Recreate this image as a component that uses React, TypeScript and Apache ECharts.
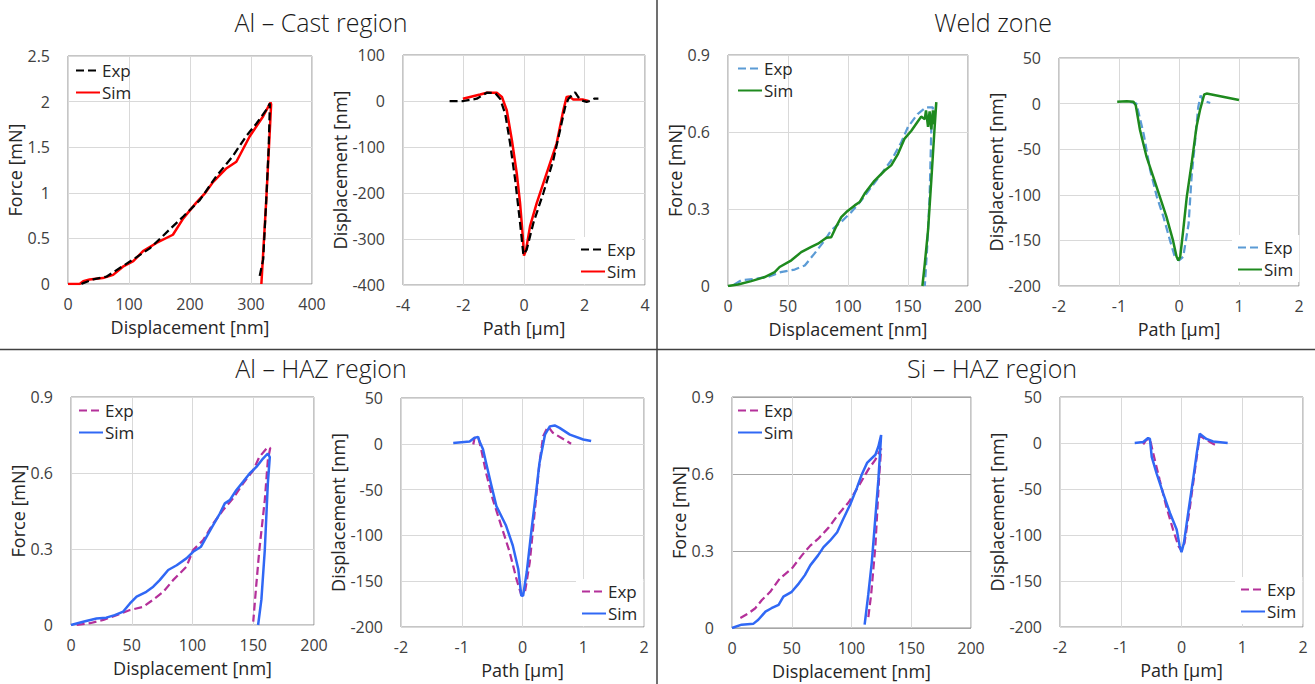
import React, { useEffect, useRef } from "react";
import * as echarts from "echarts";

// ---------- DATA ----------
const castForceExp = [[22,0],[25,0.01],[41,0.05],[63,0.08],[85,0.175],[107,0.27],[134,0.39],[167,0.6],[189,0.74],[216,0.92],[243,1.18],[270,1.4],[292,1.62],[309,1.76],[325,1.91],[331,1.98],[329,1.5],[325,0.92],[320,0.27],[314,0.08]];
const castForceSim = [[0,0],[19,0],[25,0.03],[35.5,0.05],[57,0.065],[74,0.1],[90,0.19],[107,0.25],[123,0.36],[145,0.45],[172,0.54],[189,0.72],[210,0.89],[224,0.99],[238,1.12],[260,1.27],[276,1.34],[298,1.62],[320,1.84],[332,1.99],[333,1.97],[325,0.92],[317,0]];
const castProfileExp = [[-2.46,0],[-2,0],[-1.56,5],[-1.23,18],[-0.95,17],[-0.79,5],[-0.62,-28],[-0.46,-92],[-0.29,-172],[-0.13,-265],[-0.02,-334],[0.09,-323],[0.31,-265],[0.64,-200],[0.97,-128],[1.19,-64],[1.36,-13],[1.47,5],[1.69,19],[1.8,8],[1.91,1],[2.07,-2],[2.18,0],[2.32,5],[2.46,5]];
const castProfileSim = [[-2.02,5],[-1.45,14],[-1.23,18],[-0.9,18],[-0.73,9],[-0.57,-20],[-0.4,-85],[-0.24,-157],[-0.13,-222],[-0.04,-294],[0,-336],[0.07,-323],[0.2,-272],[0.42,-222],[0.75,-157],[1.08,-92],[1.3,-20],[1.41,9],[1.5,10],[1.63,3],[1.96,3],[2.13,0]];
const weldForceExp = [[5,0.005],[11,0.022],[22,0.028],[33,0.035],[44,0.054],[55.6,0.064],[64,0.08],[72,0.126],[80.6,0.178],[86,0.217],[94.4,0.25],[102.8,0.288],[111,0.333],[119.4,0.385],[127.8,0.437],[136,0.489],[144.4,0.56],[150,0.62],[158,0.67],[165,0.696],[170.8,0.696],[169.4,0.605],[168,0.346],[166,0.152],[164,0]];
const weldForceSim = [[0,0],[8.3,0.006],[19.4,0.019],[30.6,0.035],[38.9,0.054],[43,0.074],[52.8,0.1],[61,0.132],[69.4,0.152],[75,0.165],[82,0.188],[86,0.19],[90,0.23],[94.4,0.268],[98.6,0.288],[105.6,0.314],[109.7,0.327],[113.9,0.36],[122,0.41],[130.6,0.45],[136,0.47],[141.7,0.515],[147,0.573],[152.8,0.605],[158,0.64],[161,0.66],[164,0.65],[165,0.684],[166.7,0.62],[168,0.68],[169.4,0.61],[170.8,0.684],[172,0.63],[173.6,0.716],[172,0.605],[169.4,0.41],[166.7,0.217],[164,0.087],[162,0]];
const weldProfileExp = [[-0.82,2],[-0.71,0],[-0.59,-33],[-0.48,-73],[-0.37,-102],[-0.26,-124],[-0.15,-150],[-0.07,-168],[0,-172],[0.07,-168],[0.16,-132],[0.21,-80],[0.27,-40],[0.32,-4],[0.36,9],[0.4,3.5],[0.52,0.7]];
const weldProfileSim = [[-1.03,2],[-0.87,2.6],[-0.76,2],[-0.72,-2],[-0.65,-29],[-0.54,-58.5],[-0.43,-80],[-0.32,-102],[-0.21,-124],[-0.1,-150],[-0.04,-168],[-0.01,-172],[0.02,-168],[0.07,-139],[0.13,-102],[0.21,-66],[0.29,-26],[0.35,-7],[0.42,10],[0.46,11],[1,4]];
const hazForceExp = [[4.7,0],[15.6,0.007],[26.6,0.02],[37.5,0.039],[48.5,0.059],[59.5,0.072],[67.7,0.1],[76,0.131],[84,0.177],[95,0.23],[100.5,0.296],[108.8,0.335],[117,0.4],[125,0.453],[133.4,0.5],[141.6,0.558],[150,0.611],[155,0.663],[160.8,0.696],[164,0.7],[162,0.65],[159.5,0.493],[155,0.296],[152.6,0.164],[150,0.013]];
const hazForceSim = [[0,0],[10,0.013],[21,0.026],[29,0.029],[36,0.039],[43,0.053],[48.5,0.085],[54,0.112],[62,0.131],[67.7,0.151],[73,0.177],[80,0.217],[87,0.236],[95,0.263],[100.5,0.289],[107,0.309],[111.5,0.348],[117,0.394],[122.5,0.44],[126.6,0.48],[130.7,0.493],[136,0.532],[141.6,0.565],[147,0.598],[152.6,0.624],[158,0.657],[162,0.677],[163.6,0.663],[162,0.558],[159.5,0.296],[156.7,0.1],[154,0]];
const hazProfileExp = [[-0.81,-0.7],[-0.79,6.5],[-0.73,7.6],[-0.68,-6],[-0.6,-31.5],[-0.49,-60.5],[-0.35,-89.5],[-0.21,-118.5],[-0.1,-147.5],[-0.02,-164.9],[0.04,-162],[0.12,-129],[0.2,-75],[0.28,-20.6],[0.34,8.3],[0.42,19],[0.5,12],[0.8,0]];
const hazProfileSim = [[-1.14,1],[-0.87,2.5],[-0.79,6.5],[-0.73,7.6],[-0.71,3],[-0.65,-6],[-0.6,-20.6],[-0.51,-46],[-0.43,-68],[-0.27,-89.5],[-0.16,-111],[-0.07,-136.6],[-0.02,-165.6],[0.01,-166],[0.07,-140],[0.15,-93],[0.23,-49.6],[0.28,-20.6],[0.37,10],[0.45,19],[0.53,20],[0.61,17.4],[0.78,10],[1.0,4.7],[1.13,3]];
const siForceExp = [[7,0.039],[14,0.058],[19.5,0.077],[25,0.109],[32,0.141],[40,0.193],[50,0.231],[58.5,0.283],[65.5,0.321],[72,0.347],[81,0.392],[89,0.443],[97.5,0.489],[106,0.553],[114,0.617],[120,0.656],[124.8,0.7],[123,0.579],[120,0.321],[116.4,0.129],[114,0.039]];
const siForceSim = [[0,0],[8,0.013],[18,0.017],[22,0.032],[28,0.064],[33,0.077],[39,0.09],[43,0.122],[50,0.141],[56,0.174],[61,0.206],[65.5,0.244],[72,0.283],[76.6,0.315],[82,0.34],[88,0.373],[93,0.424],[99,0.482],[104.5,0.546],[108.6,0.598],[113,0.643],[120,0.675],[122.5,0.707],[124.8,0.752],[122.5,0.579],[117,0.257],[114,0.129],[111,0.013]];
const siProfileExp = [[-0.63,-1.6],[-0.58,3.4],[-0.52,4.4],[-0.47,-10],[-0.36,-40],[-0.25,-69],[-0.14,-94],[-0.05,-112],[0,-117],[0.05,-108.5],[0.14,-69],[0.22,-30],[0.3,8],[0.41,3.4],[0.52,-0.9],[0.58,-2.7]];
const siProfileSim = [[-0.77,0],[-0.63,1],[-0.55,5.4],[-0.52,4.4],[-0.49,-15],[-0.41,-33],[-0.3,-55],[-0.19,-76],[-0.08,-94],[-0.03,-112],[0,-118.6],[0.04,-108.5],[0.11,-76],[0.19,-40],[0.25,-11.6],[0.3,10],[0.41,4.4],[0.52,1.6],[0.76,0]];

const titles = ["Al \u2013 Cast region", "Weld zone", "Al \u2013 HAZ region", "Si \u2013 HAZ region"];
const forceAxisName = "Force [mN]";
const dispAxisName = "Displacement [nm]";
const pathAxisName = "Path [\u00b5m]";
const legendNames = ["Exp", "Sim"];

// ---------- LAYOUT / STYLE ----------
const FONT = "'Open Sans', 'Noto Sans', sans-serif";
const BLACK = "#000000", RED = "#FF0000";
const LBLUE = "#5B9BD5", GREEN = "#1E8A1E";
const MAGENTA = "#B4309A", BLUE = "#3068F5";

type Panel = {
  grid: [number, number, number, number];
  x: [number, number, number]; y: [number, number, number];
  xName: string; yName: string; yGap: number;
  exp: number[][]; sim: number[][]; expColor: string; simColor: string;
  legend: [number, number]; legendBg: boolean; expOnTop: boolean; darkY?: boolean;
};

const panels: Panel[] = [
  { grid: [68, 56, 244, 228], x: [0, 400, 100], y: [0, 2.5, 0.5], xName: dispAxisName, yName: forceAxisName, yGap: 38,
    exp: castForceExp, sim: castForceSim, expColor: BLACK, simColor: RED, legend: [75, 61], legendBg: false, expOnTop: true },
  { grid: [403, 55, 242, 230], x: [-4, 4, 2], y: [-400, 100, 100], xName: pathAxisName, yName: dispAxisName, yGap: 50,
    exp: castProfileExp, sim: castProfileSim, expColor: BLACK, simColor: RED, legend: [575, 237], legendBg: true, expOnTop: true },
  { grid: [728, 55, 240, 231], x: [0, 200, 50], y: [0, 0.9, 0.3], xName: dispAxisName, yName: forceAxisName, yGap: 41,
    exp: weldForceExp, sim: weldForceSim, expColor: LBLUE, simColor: GREEN, legend: [737, 59], legendBg: false, expOnTop: false },
  { grid: [1059, 58, 240, 228], x: [-2, 2, 1], y: [-200, 50, 50], xName: pathAxisName, yName: dispAxisName, yGap: 51,
    exp: weldProfileExp, sim: weldProfileSim, expColor: LBLUE, simColor: GREEN, legend: [1232, 235], legendBg: true, expOnTop: false },
  { grid: [71, 397, 243, 228], x: [0, 200, 50], y: [0, 0.9, 0.3], xName: dispAxisName, yName: forceAxisName, yGap: 42,
    exp: hazForceExp, sim: hazForceSim, expColor: MAGENTA, simColor: BLUE, legend: [78, 401], legendBg: false, expOnTop: false },
  { grid: [401, 398, 243, 229], x: [-2, 2, 1], y: [-200, 50, 50], xName: pathAxisName, yName: dispAxisName, yGap: 49,
    exp: hazProfileExp, sim: hazProfileSim, expColor: MAGENTA, simColor: BLUE, legend: [576, 579], legendBg: true, expOnTop: false },
  { grid: [732, 397, 239, 231], x: [0, 200, 50], y: [0, 0.9, 0.3], xName: dispAxisName, yName: forceAxisName, yGap: 43,
    exp: siForceExp, sim: siForceSim, expColor: MAGENTA, simColor: BLUE, legend: [737, 401], legendBg: false, expOnTop: false, darkY: true },
  { grid: [1060, 397, 243, 230], x: [-2, 2, 1], y: [-200, 50, 50], xName: pathAxisName, yName: dispAxisName, yGap: 49,
    exp: siProfileExp, sim: siProfileSim, expColor: MAGENTA, simColor: BLUE, legend: [1235, 577], legendBg: true, expOnTop: false },
];

function buildOption() {
  const grid: any[] = [], xAxis: any[] = [], yAxis: any[] = [], series: any[] = [], legend: any[] = [];
  panels.forEach((p, i) => {
    grid.push({ left: p.grid[0], top: p.grid[1], width: p.grid[2], height: p.grid[3], show: true,
      borderColor: "#8c8c8c", borderWidth: 1, backgroundColor: "transparent", containLabel: false });
    const labelStyle = { color: "#404040", fontSize: 16, fontFamily: FONT };
    const nameStyle = { color: "#262626", fontSize: 18, lineHeight: 18, fontFamily: FONT };
    xAxis.push({ type: "value", gridIndex: i, min: p.x[0], max: p.x[1], interval: p.x[2], position: "bottom",
      name: p.xName, nameLocation: "middle", nameGap: 34, nameTextStyle: nameStyle,
      axisLine: { show: false, onZero: false }, axisTick: { show: false },
      axisLabel: { ...labelStyle, lineHeight: 16, margin: 12 },
      splitLine: { show: true, lineStyle: { color: "#d9d9d9", width: 1 } } });
    yAxis.push({ type: "value", gridIndex: i, min: p.y[0], max: p.y[1], interval: p.y[2],
      name: p.yName, nameLocation: "middle", nameGap: p.yGap, nameTextStyle: nameStyle,
      axisLine: { show: false, onZero: false }, axisTick: { show: false },
      axisLabel: { ...labelStyle, margin: 18 },
      splitLine: { show: true, lineStyle: { color: p.darkY ? "#a6a6a6" : "#d9d9d9", width: 1 } } });
    const expS = { name: `${legendNames[0]}#${i}`, type: "line", xAxisIndex: i, yAxisIndex: i, data: p.exp,
      symbol: "none", smooth: false, z: p.expOnTop ? 4 : 2, color: p.expColor,
      lineStyle: { color: p.expColor, width: 2.25, type: [8, 4] } };
    const simS = { name: `${legendNames[1]}#${i}`, type: "line", xAxisIndex: i, yAxisIndex: i, data: p.sim,
      symbol: "none", smooth: false, z: 3, color: p.simColor,
      lineStyle: { color: p.simColor, width: 2.5, type: "solid" } };
    series.push(expS, simS);
    legend.push({ data: [expS.name, simS.name], orient: "vertical", left: p.legend[0], top: p.legend[1],
      itemWidth: 24, itemHeight: 14, itemGap: 3, selectedMode: false,
      padding: p.legendBg ? [3, 6, 3, 5] : 0,
      backgroundColor: p.legendBg ? "#ffffff" : "transparent",
      itemStyle: { color: "transparent", borderColor: "transparent", borderWidth: 0, opacity: 0 },
      formatter: (n: string) => n.split("#")[0],
      textStyle: { color: "#262626", fontSize: 17, lineHeight: 19, fontFamily: FONT, padding: [0, 0, 0, -3] } });
  });

  const titlePos = [[321, 22], [993, 22], [321, 368], [992, 368]];
  const graphic: any[] = titles.map((t, i) => ({
    type: "text", x: titlePos[i][0], y: titlePos[i][1], z: 10,
    style: { text: t, fill: "#1a1a1a", font: `300 25px ${FONT}`, textAlign: "center", textVerticalAlign: "middle" },
  }));
  graphic.push(
    { type: "line", shape: { x1: 657, y1: 0, x2: 657, y2: 684 }, style: { stroke: "#404040", lineWidth: 1.5 } },
    { type: "line", shape: { x1: 0, y1: 349.5, x2: 1315, y2: 349.5 }, style: { stroke: "#404040", lineWidth: 1.5 } },
  );

  return { animation: false, backgroundColor: "#ffffff", textStyle: { fontFamily: FONT },
    grid, xAxis, yAxis, series, legend, graphic };
}

export default function App() {
  const ref = useRef<HTMLDivElement>(null);
  useEffect(() => {
    if (!ref.current) return;
    const chart = echarts.init(ref.current, undefined, { renderer: "svg" });
    chart.setOption(buildOption() as any);
    return () => chart.dispose();
  }, []);
  return <div ref={ref} style={{ position: "fixed", left: 0, top: 0, width: 1315, height: 684, background: "#fff" }} />;
}
